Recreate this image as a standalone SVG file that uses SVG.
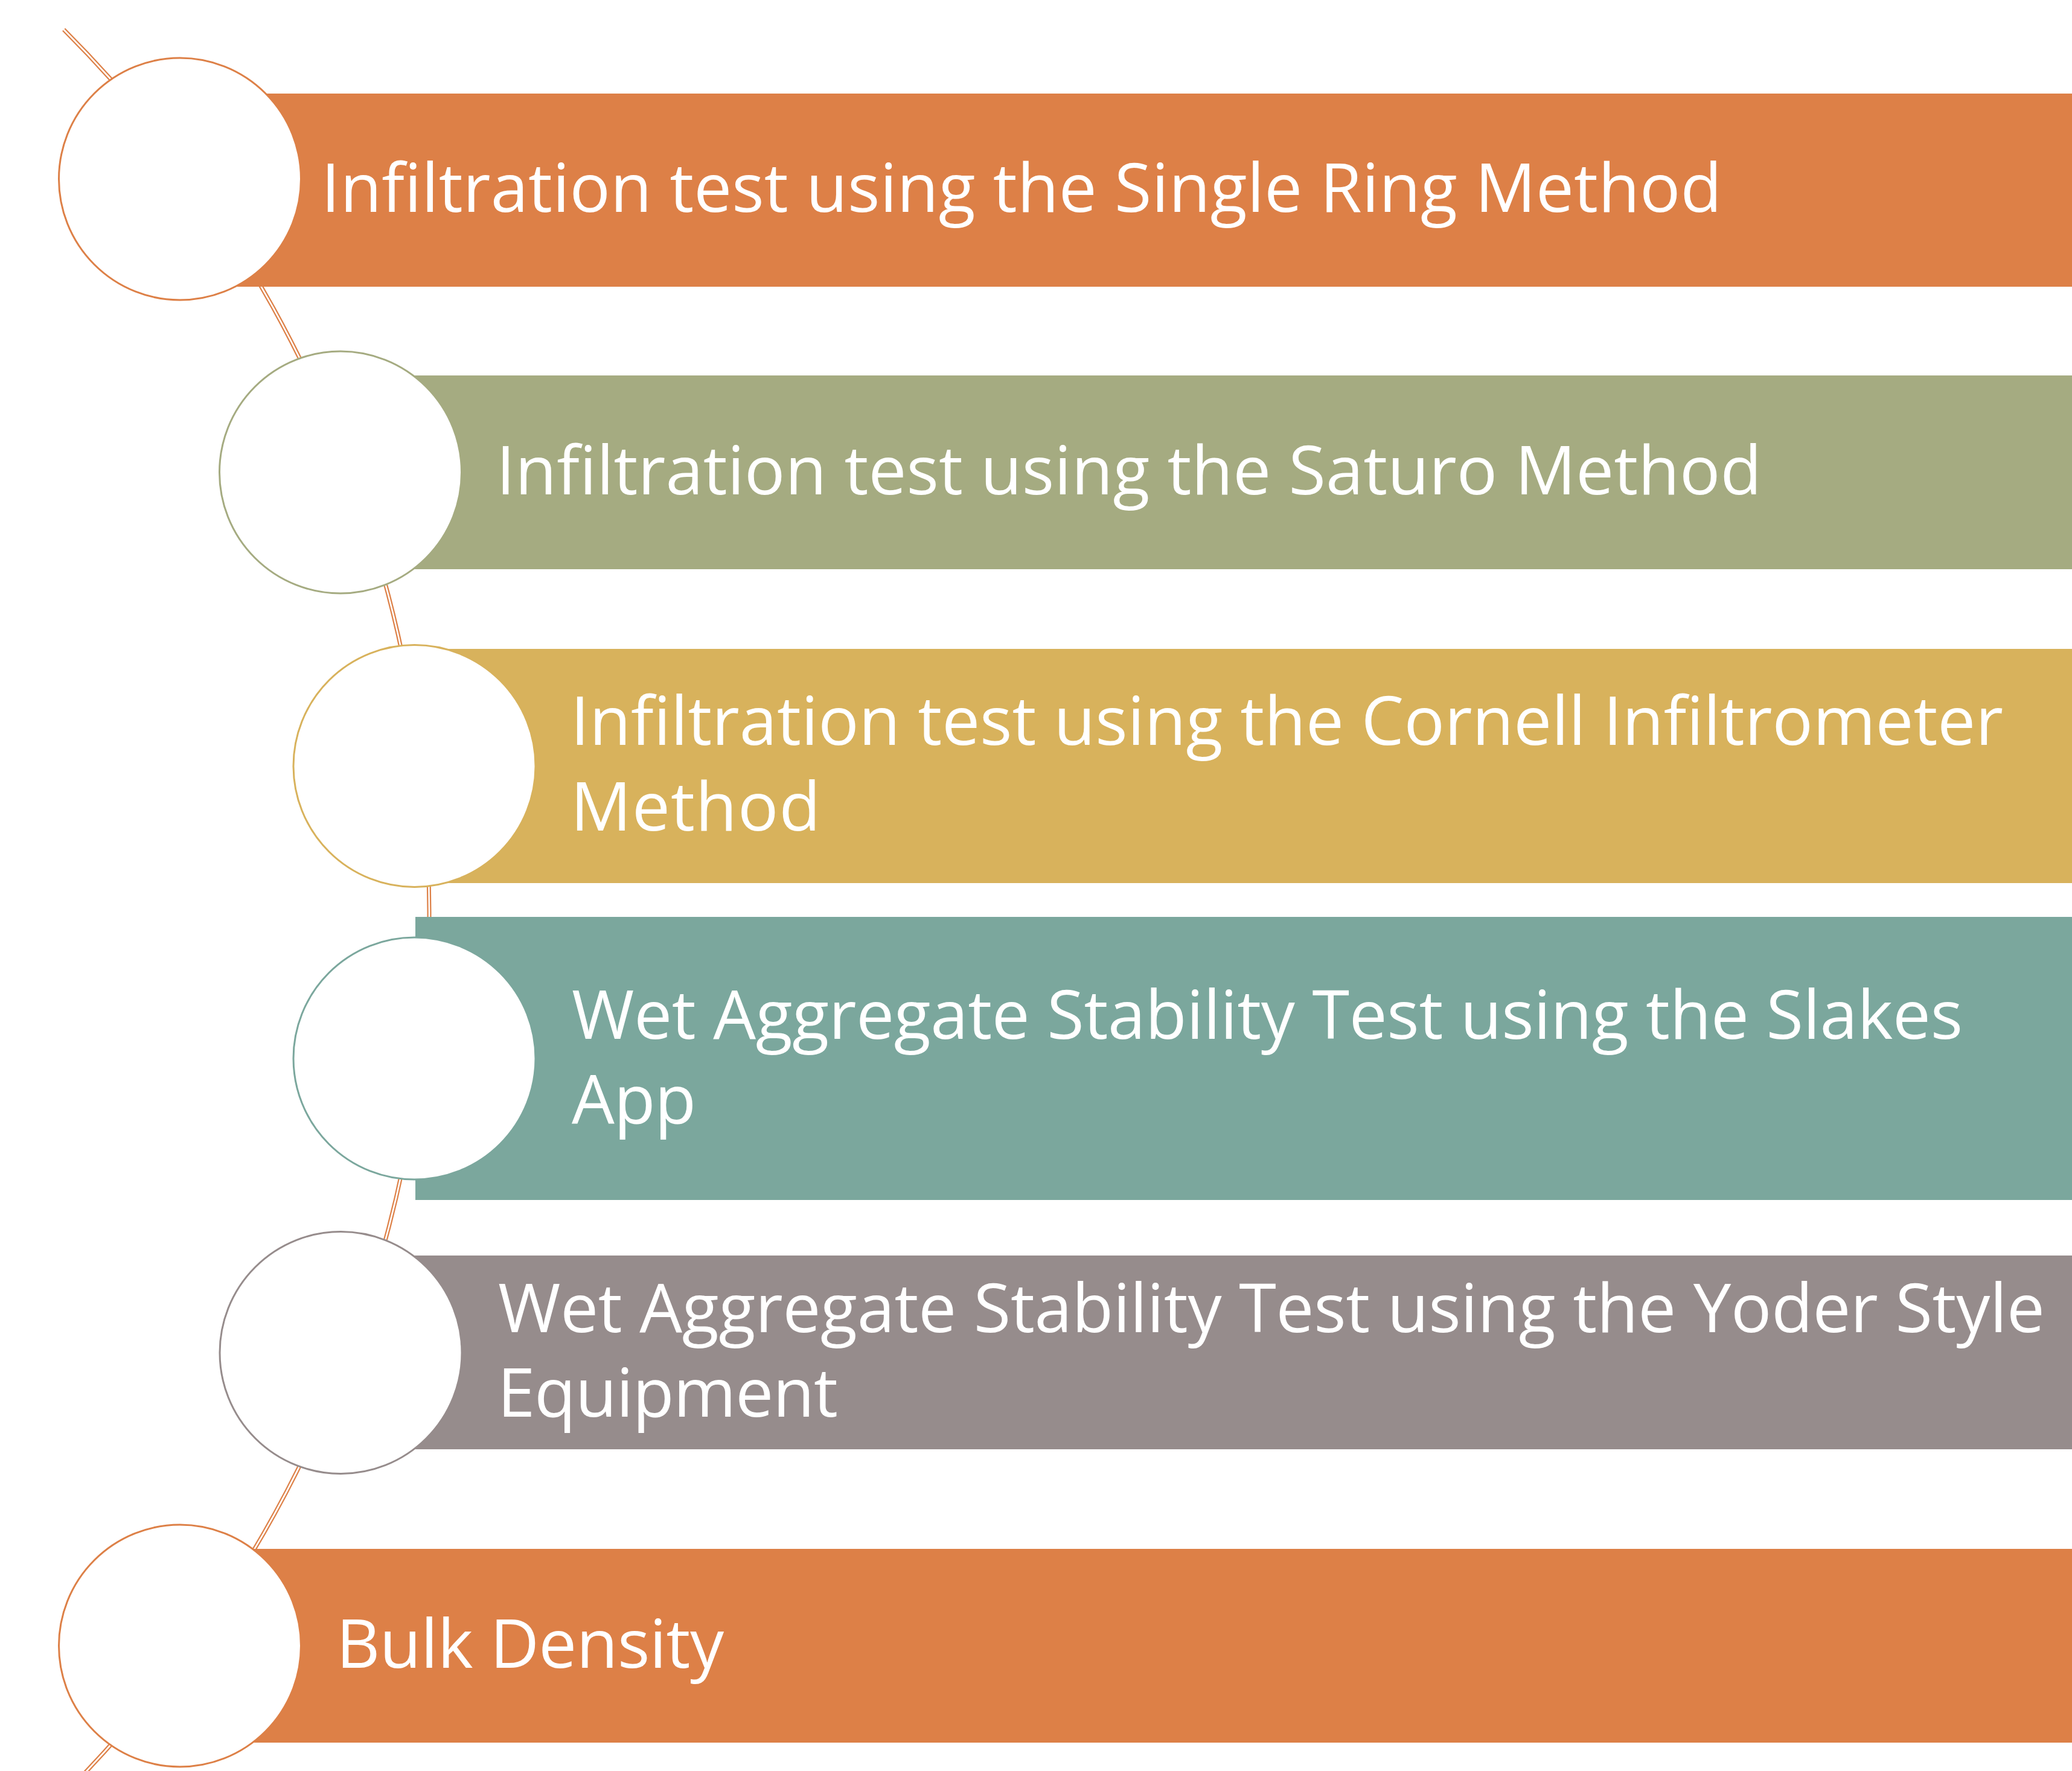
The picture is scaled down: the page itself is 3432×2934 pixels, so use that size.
<svg xmlns="http://www.w3.org/2000/svg" width="3432" height="2934" viewBox="0 0 3432 2934">
<style>
.lbl{font-family:"Open Sans","Noto Sans","Liberation Sans",sans-serif;font-size:112px;fill:#FFFFFF;}
.ring{fill:#FFFFFF;stroke-width:3;}
</style>
<rect x="0" y="0" width="3432" height="2934" fill="#FFFFFF"/>
<g id="connectors">
<path d="M 105.6 49 A 2068 2068 0 0 1 105.6 2973" fill="none" stroke="#DD8047" stroke-width="7"/>
<path d="M 105.6 49 A 2068 2068 0 0 1 105.6 2973" fill="none" stroke="#FFFFFF" stroke-width="2.6"/>
</g>
<g id="node1">
<rect x="298" y="155" width="3134" height="320" fill="#DD8047"/>
<circle class="ring" cx="298" cy="296.5" r="200.5" stroke="#DD8047"/>
<text class="lbl" x="532" y="351" textLength="2320" lengthAdjust="spacing">Infiltration test using the Single Ring Method</text>
</g>
<g id="node2">
<rect x="564" y="622" width="2868" height="321" fill="#A5AB81"/>
<circle class="ring" cx="564" cy="782.5" r="200.5" stroke="#A5AB81"/>
<text class="lbl" x="822" y="819" textLength="2096" lengthAdjust="spacing">Infiltration test using the Saturo Method</text>
</g>
<g id="node3">
<rect x="686" y="1075" width="2746" height="388" fill="#D8B25C"/>
<circle class="ring" cx="686.5" cy="1269" r="200.5" stroke="#D8B25C"/>
<text class="lbl" x="945" y="1234" textLength="2373" lengthAdjust="spacing">Infiltration test using the Cornell Infiltrometer</text>
<text class="lbl" x="945" y="1376" textLength="414" lengthAdjust="spacing">Method</text>
</g>
<g id="node4">
<rect x="688" y="1519" width="2744" height="469" fill="#7BA79D"/>
<circle class="ring" cx="686.5" cy="1753.5" r="200.5" stroke="#7BA79D"/>
<text class="lbl" x="947" y="1721" textLength="2304" lengthAdjust="spacing">Wet Aggregate Stability Test using the Slakes</text>
<text class="lbl" x="947" y="1861" textLength="206" lengthAdjust="spacing">App</text>
</g>
<g id="node5">
<rect x="564" y="2080" width="2868" height="321" fill="#968C8C"/>
<circle class="ring" cx="564.5" cy="2241" r="200.5" stroke="#968C8C"/>
<text class="lbl" x="825" y="2207" textLength="2562" lengthAdjust="spacing">Wet Aggregate Stability Test using the Yoder Style</text>
<text class="lbl" x="824" y="2347" textLength="564" lengthAdjust="spacing">Equipment</text>
</g>
<g id="node6">
<rect x="298" y="2566" width="3134" height="321" fill="#DD8047"/>
<circle class="ring" cx="298" cy="2726.5" r="200.5" stroke="#DD8047"/>
<text class="lbl" x="557" y="2763" textLength="642" lengthAdjust="spacing">Bulk Density</text>
</g>
</svg>
